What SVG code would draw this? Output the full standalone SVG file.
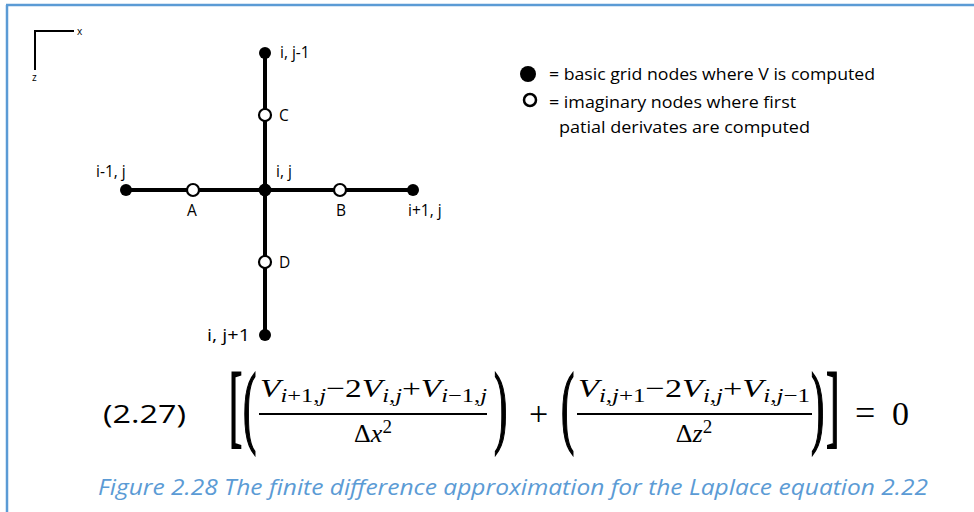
<svg xmlns="http://www.w3.org/2000/svg" width="974" height="512" viewBox="0 0 974 512">
<style>
.lbl{font-family:"Open Sans","Liberation Sans",sans-serif;font-size:15.5px;fill:#000}
.leg{font-family:"Open Sans","Liberation Sans",sans-serif;font-size:16px;fill:#000}
.ax{font-family:"Open Sans","Liberation Sans",sans-serif;font-size:10px;fill:#000}
.edge{stroke:#000;stroke-width:4;fill:none}
.full{fill:#000}
.open{fill:#fff;stroke:#000;stroke-width:2.2}
.m{font-family:"Liberation Serif","DejaVu Serif",serif;font-size:26px;fill:#000}
.it{font-style:italic}
.sb{font-size:19px}
.br{font-size:40px;stroke:#000;stroke-width:0.9}
.cap{font-family:"Open Sans","Liberation Sans",sans-serif;font-size:21px;font-style:italic;fill:#5b9bd5}
.eqn{font-family:"Open Sans","Liberation Sans",sans-serif;font-size:26px;fill:#000}
</style>
<rect width="974" height="512" fill="#fff"/>
<g id="frame" stroke="#5b9bd5" stroke-width="2.5" fill="none">
<line x1="6" y1="5" x2="974" y2="5"/>
<line x1="7" y1="5" x2="7" y2="512"/>
</g>
<g id="axes">
<polyline points="74,31 35,31 35,70" fill="none" stroke="#000" stroke-width="2"/>
<text class="ax" x="77" y="35">x</text>
<text class="ax" x="32" y="81">z</text>
</g>
<g id="connectors">
<line class="edge" x1="265" y1="53" x2="265" y2="335"/>
<line class="edge" x1="126" y1="190" x2="413" y2="190"/>
</g>
<g id="n-top"><circle class="full" cx="265" cy="53" r="6"/><text class="lbl" x="280" y="58">i, j-1</text></g>
<g id="n-C"><circle class="open" cx="265" cy="115" r="6"/><text class="lbl" x="279" y="121">C</text></g>
<g id="n-center"><circle class="full" cx="265" cy="190" r="6.5"/><text class="lbl" x="276" y="177">i, j</text></g>
<g id="n-left"><circle class="full" cx="126" cy="190" r="6"/><text class="lbl" x="96" y="177">i-1, j</text></g>
<g id="n-A"><circle class="open" cx="193" cy="190" r="6"/><text class="lbl" x="187" y="216">A</text></g>
<g id="n-B"><circle class="open" cx="340" cy="190" r="6"/><text class="lbl" x="336" y="216">B</text></g>
<g id="n-right"><circle class="full" cx="413" cy="190" r="6"/><text class="lbl" x="408" y="216">i+1, j</text></g>
<g id="n-D"><circle class="open" cx="265" cy="262" r="6"/><text class="lbl" x="279" y="268">D</text></g>
<g id="n-bottom"><circle class="full" cx="265" cy="335" r="6"/><text class="lbl" x="207" y="341" textLength="43" lengthAdjust="spacingAndGlyphs">i, j+1</text></g>
<g id="legend">
<circle class="full" cx="528" cy="74" r="8"/>
<text class="leg" x="549" y="80" textLength="326" lengthAdjust="spacingAndGlyphs">= basic grid nodes where V is computed</text>
<circle cx="530" cy="100" r="6" fill="#fff" stroke="#000" stroke-width="2.5"/>
<text class="leg" x="549" y="108" textLength="247" lengthAdjust="spacingAndGlyphs">= imaginary nodes where first</text>
<text class="leg" x="559" y="133" textLength="251" lengthAdjust="spacingAndGlyphs">patial derivates are computed</text>
</g>
<g id="equation">
<text class="eqn" x="103" y="423" textLength="83" lengthAdjust="spacingAndGlyphs">(2.27)</text>
<text class="m br" x="229" y="436" transform="translate(0,436) scale(1,2.3) translate(0,-436)">[</text>
<text class="m br" x="243" y="436" transform="translate(0,436) scale(1,2.3) translate(0,-436)">(</text>
<text class="m" x="260" y="397" textLength="227" lengthAdjust="spacingAndGlyphs"><tspan class="it">V</tspan><tspan class="sb it" dy="5">i</tspan><tspan class="sb">+1,</tspan><tspan class="sb it">j</tspan><tspan dy="-5">−2</tspan><tspan class="it">V</tspan><tspan class="sb it" dy="5">i,j</tspan><tspan dy="-5">+</tspan><tspan class="it">V</tspan><tspan class="sb it" dy="5">i</tspan><tspan class="sb">−1,</tspan><tspan class="sb it">j</tspan></text>
<line x1="259" y1="414" x2="487" y2="414" stroke="#000" stroke-width="2"/>
<text class="m" x="373" y="442" text-anchor="middle">Δ<tspan class="it">x</tspan><tspan class="sb" dy="-9">2</tspan></text>
<text class="m br" x="494" y="436" transform="translate(0,436) scale(1,2.3) translate(0,-436)">)</text>
<text class="m" x="529" y="425" style="font-size:34px">+</text>
<text class="m br" x="561" y="436" transform="translate(0,436) scale(1,2.3) translate(0,-436)">(</text>
<text class="m" x="578" y="397" textLength="232" lengthAdjust="spacingAndGlyphs"><tspan class="it">V</tspan><tspan class="sb it" dy="5">i,j</tspan><tspan class="sb">+1</tspan><tspan dy="-5">−2</tspan><tspan class="it">V</tspan><tspan class="sb it" dy="5">i,j</tspan><tspan dy="-5">+</tspan><tspan class="it">V</tspan><tspan class="sb it" dy="5">i,j</tspan><tspan class="sb">−1</tspan></text>
<line x1="577" y1="414" x2="812" y2="414" stroke="#000" stroke-width="2"/>
<text class="m" x="694" y="442" text-anchor="middle">Δ<tspan class="it">z</tspan><tspan class="sb" dy="-9">2</tspan></text>
<text class="m br" x="811" y="436" transform="translate(0,436) scale(1,2.3) translate(0,-436)">)</text>
<text class="m br" x="826" y="436" transform="translate(0,436) scale(1,2.3) translate(0,-436)">]</text>
<text class="m" x="855" y="425" style="font-size:36px">=</text>
<text class="m" x="892" y="425" style="font-size:34px">0</text>
</g>
<g id="caption">
<text class="cap" x="98" y="495" textLength="830" lengthAdjust="spacingAndGlyphs">Figure 2.28 The finite difference approximation for the Laplace equation 2.22</text>
</g>
</svg>
